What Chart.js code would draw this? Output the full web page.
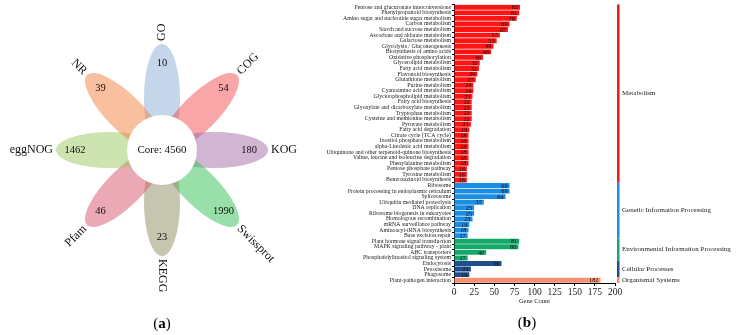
<!DOCTYPE html>
<html>
<head>
<meta charset="utf-8">
<script src="https://cdn.jsdelivr.net/npm/chart.js@4"></script>
<style>
  html, body { margin: 0; padding: 0; background: #fff; }
  #wrap { position: relative; width: 738px; height: 335px; overflow: hidden; }
  canvas { position: absolute; top: 0; }
  #flower { left: 0; }
  #kegg { left: 300px; }
</style>
</head>
<body>
<div id="wrap">
  <canvas id="flower" width="300" height="335"></canvas>
  <canvas id="kegg" width="438" height="335"></canvas>
</div>
<script>
const SERIF = "'Liberation Serif', 'Times New Roman', serif";

// ---- panel (a): flower diagram ----
const databases = ['GO', 'COG', 'KOG', 'Swissprot', 'KEGG', 'Pfam', 'eggNOG', 'NR'];
const uniqueCounts = [10, 54, 180, 1990, 23, 46, 1462, 39];
const coreCount = 4560;
const petalColors = [
  'rgba(139,171,213,0.5)', 'rgba(241,77,81,0.5)', 'rgba(165,105,167,0.5)', 'rgba(49,191,85,0.5)',
  'rgba(139,139,97,0.5)', 'rgba(213,83,107,0.5)', 'rgba(155,199,97,0.5)', 'rgba(243,129,65,0.5)'
];

// ---- panel (b): KEGG pathway counts ----
const pathways = [
  'Pentose and glucuronate interconversions', 'Phenylpropanoid biosynthesis',
  'Amino sugar and nucleotide sugar metabolism', 'Carbon metabolism', 'Starch and sucrose metabolism',
  'Ascorbate and aldarate metabolism', 'Galactose metabolism', 'Glycolysis / Gluconeogenesis',
  'Biosynthesis of amino acids', 'Oxidative phosphorylation', 'Glycerolipid metabolism',
  'Fatty acid metabolism', 'Flavonoid biosynthesis', 'Glutathione metabolism', 'Purine metabolism',
  'Cyanoamino acid metabolism', 'Glycerophospholipid metabolism', 'Fatty acid biosynthesis',
  'Glyoxylate and dicarboxylate metabolism', 'Tryptophan metabolism', 'Cysteine and methionine metabolism',
  'Pyruvate metabolism', 'Fatty acid degradation', 'Citrate cycle (TCA cycle)', 'Inositol phosphate metabolism',
  'alpha-Linolenic acid metabolism', 'Ubiquinone and other terpenoid-quinone biosynthesis',
  'Valine, leucine and isoleucine degradation', 'Phenylalanine metabolism', 'Pentose phosphate pathway',
  'Tyrosine metabolism', 'Benzoxazinoid biosynthesis',
  'Ribosome', 'Protein processing in endoplasmic reticulum', 'Spliceosome', 'Ubiquitin mediated proteolysis',
  'DNA replication', 'Ribosome biogenesis in eukaryotes', 'Homologous recombination',
  'mRNA surveillance pathway', 'Aminoacyl-tRNA biosynthesis', 'Base excision repair',
  'Plant hormone signal transduction', 'MAPK signaling pathway - plant', 'ABC transporters',
  'Phosphatidylinositol signaling system',
  'Endocytosis', 'Peroxisome', 'Phagosome',
  'Plant-pathogen interaction'
];
const geneCounts = [
  82, 81, 78, 69, 67, 57, 53, 49, 46, 36, 32, 31, 29, 27, 24, 24, 23, 22, 22, 22, 22, 21, 19, 18, 18,
  18, 18, 18, 18, 16, 16, 16,
  69, 69, 64, 37, 25, 25, 23, 19, 18, 17,
  81, 80, 40, 17,
  59, 21, 19,
  182
];
const groupNames = ['Metabolism', 'Genetic Information Processing', 'Environmental Information Processing',
  'Cellular Processes', 'Organismal Systems'];
const groupSizes = [32, 10, 4, 3, 1];
const groupColors = ['#ff1414', '#1c8de3', '#14a86a', '#1f4f8c', '#f7916f'];
const xTicks = [0, 25, 50, 75, 100, 125, 150, 175, 200];

const barColors = [];
groupSizes.forEach((n, g) => { for (let i = 0; i < n; i++) barColors.push(groupColors[g]); });

// petal geometry (pixels)
const PETAL_MID = 52, PETAL_A = 54, PETAL_B = 18, NUM_R = 87, NAME_R = 109, CORE_R = 35;
const petalAngles = databases.map((d, i) => i * 45);   // clockwise from top

const flowerPlugin = {
  id: 'flower',
  beforeDatasetsDraw(chart) {
    const { ctx, scales: { x, y } } = chart;
    const unit = x.getPixelForValue(1) - x.getPixelForValue(0);
    ctx.save();
    petalAngles.forEach((phi, i) => {
      const r = phi * Math.PI / 180;
      const cx = x.getPixelForValue(PETAL_MID * Math.sin(r));
      const cy = y.getPixelForValue(PETAL_MID * Math.cos(r));
      ctx.beginPath();
      ctx.ellipse(cx, cy, PETAL_A * unit, PETAL_B * unit, r - Math.PI / 2, 0, Math.PI * 2);
      ctx.fillStyle = petalColors[i];
      ctx.fill();
    });
    ctx.beginPath();
    ctx.arc(x.getPixelForValue(0), y.getPixelForValue(0), CORE_R * unit, 0, Math.PI * 2);
    ctx.fillStyle = '#fff';
    ctx.fill();
    ctx.restore();
  },
  afterDatasetsDraw(chart) {
    const { ctx, scales: { x, y } } = chart;
    const meta = chart.getDatasetMeta(0);
    ctx.save();
    ctx.fillStyle = '#111';
    ctx.textBaseline = 'middle';
    ctx.textAlign = 'center';
    ctx.font = '10.5px ' + SERIF;
    meta.data.forEach((pt, i) => ctx.fillText(String(uniqueCounts[i]), pt.x, pt.y));
    ctx.font = '11px ' + SERIF;
    ctx.fillText('Core: ' + coreCount, x.getPixelForValue(0), y.getPixelForValue(0));
    ctx.font = '12px ' + SERIF;
    petalAngles.forEach((phi, i) => {
      const r = phi * Math.PI / 180;
      const px = x.getPixelForValue(NAME_R * Math.sin(r));
      const py = y.getPixelForValue(NAME_R * Math.cos(r));
      const outward = phi <= 180;
      ctx.save();
      ctx.translate(px, py);
      ctx.rotate(((outward ? phi - 90 : phi - 270) * Math.PI) / 180);
      ctx.textAlign = outward ? 'left' : 'right';
      ctx.fillText(databases[i], 0, 0);
      ctx.restore();
    });
    // panel letter
    drawPanelLetter(ctx, 'a', x.getPixelForValue(0), 324);
    ctx.restore();
  }
};

function drawPanelLetter(ctx, letter, cx, cy) {
  ctx.save();
  ctx.textBaseline = 'middle';
  ctx.textAlign = 'left';
  const reg = '15px ' + SERIF, bold = 'bold 15px ' + SERIF;
  ctx.font = reg; const wp = ctx.measureText('(').width;
  ctx.font = bold; const wl = ctx.measureText(letter).width;
  let sx = cx - (2 * wp + wl) / 2;
  ctx.fillStyle = '#000';
  ctx.font = reg; ctx.fillText('(', sx, cy); sx += wp;
  ctx.font = bold; ctx.fillText(letter, sx, cy); sx += wl;
  ctx.font = reg; ctx.fillText(')', sx, cy);
  ctx.restore();
}

new Chart(document.getElementById('flower'), {
  type: 'scatter',
  data: {
    datasets: [{
      data: petalAngles.map(phi => ({
        x: NUM_R * Math.sin(phi * Math.PI / 180),
        y: NUM_R * Math.cos(phi * Math.PI / 180)
      })),
      pointRadius: 0
    }]
  },
  options: {
    responsive: false,
    animation: false,
    devicePixelRatio: 1,
    layout: { padding: 0 },
    plugins: { legend: { display: false }, tooltip: { enabled: false } },
    scales: {
      x: { type: 'linear', min: -162, max: 138, display: false },
      y: { type: 'linear', min: -185, max: 150, display: false }
    }
  },
  plugins: [flowerPlugin]
});

// ---- bar chart ----
const valueLabels = {
  id: 'valueLabels',
  afterDatasetsDraw(chart) {
    const { ctx } = chart;
    const meta = chart.getDatasetMeta(0);
    ctx.save();
    ctx.font = '6.3px ' + SERIF;
    ctx.fillStyle = '#111';
    ctx.textAlign = 'right';
    ctx.textBaseline = 'middle';
    meta.data.forEach((bar, i) => ctx.fillText(String(geneCounts[i]), bar.x - 2, bar.y + 0.5));
    ctx.restore();
  }
};

const groupStrip = {
  id: 'groupStrip',
  afterDraw(chart) {
    const { ctx, chartArea, scales: { y } } = chart;
    const band = (chartArea.bottom - chartArea.top) / pathways.length;
    let start = 0;
    ctx.save();
    groupSizes.forEach((n, g) => {
      const top = y.getPixelForValue(start) - band / 2;
      const bottom = y.getPixelForValue(start + n - 1) + band / 2;
      ctx.fillStyle = groupColors[g];
      ctx.fillRect(chartArea.right + 2, top, 2.5, bottom - top);
      ctx.fillStyle = '#222';
      ctx.font = '7px ' + SERIF;
      ctx.textAlign = 'left';
      ctx.textBaseline = 'middle';
      ctx.fillText(groupNames[g], chartArea.right + 7, (top + bottom) / 2);
      start += n;
    });
    ctx.restore();
    drawPanelLetter(ctx, 'b', 527 - 300, 323);
  }
};

new Chart(document.getElementById('kegg'), {
  type: 'bar',
  data: {
    labels: pathways,
    datasets: [{
      data: geneCounts,
      backgroundColor: barColors,
      borderWidth: 0,
      barPercentage: 0.88,
      categoryPercentage: 1
    }]
  },
  options: {
    indexAxis: 'y',
    responsive: false,
    animation: false,
    devicePixelRatio: 1,
    layout: { padding: { top: 4, bottom: 30, left: 0, right: 123 } },
    plugins: { legend: { display: false }, tooltip: { enabled: false } },
    scales: {
      x: {
        min: 0, max: 200,
        afterBuildTicks: (axis) => { axis.ticks = xTicks.map(v => ({ value: v })); },
        afterFit: (axis) => { axis.height = 22; },
        grid: { display: true, drawOnChartArea: false, drawTicks: true, tickLength: 3, color: '#000' },
        border: { display: true, color: '#000', width: 1 },
        ticks: { font: { family: SERIF, size: 9.5 }, color: '#222', padding: 1, maxRotation: 0 },
        title: { display: true, text: 'Gene Count', font: { family: SERIF, size: 6.5 }, color: '#222', padding: { top: 0, bottom: 0 } }
      },
      y: {
        afterFit: (axis) => { axis.width = 154; },
        grid: { display: true, drawOnChartArea: false, drawTicks: true, tickLength: 2, color: '#000' },
        border: { display: true, color: '#000', width: 1 },
        ticks: { autoSkip: false, font: { family: SERIF, size: 5.8 }, color: '#222', padding: 1 }
      }
    }
  },
  plugins: [valueLabels, groupStrip]
});
</script>
</body>
</html>
